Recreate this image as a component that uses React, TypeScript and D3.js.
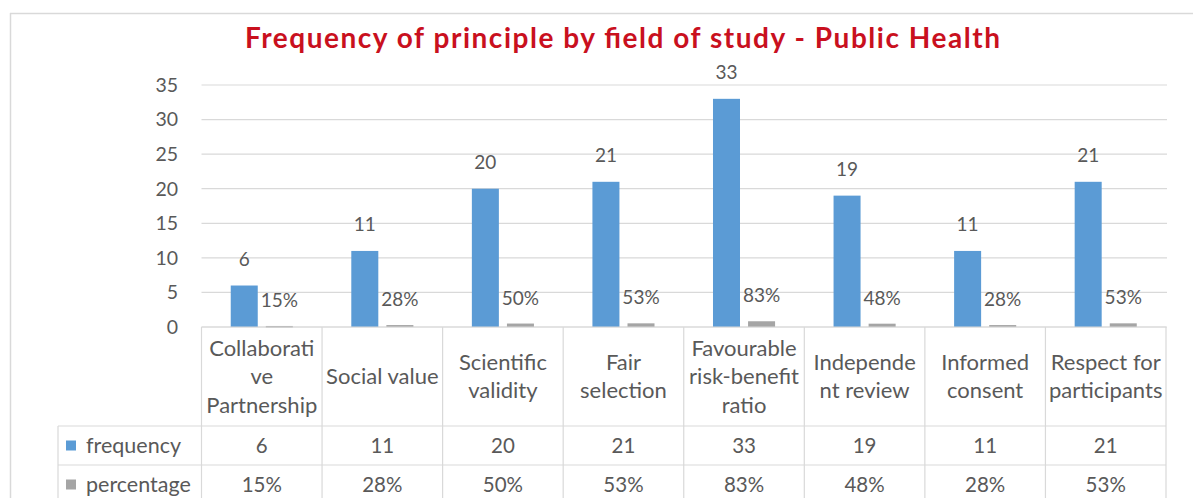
import React from "react";
import * as d3 from "d3";

const categoryLines: string[][] = [
  ["Collaborati", "ve", "Partnership"],
  ["Social value"],
  ["Scientific", "validity"],
  ["Fair", "selection"],
  ["Favourable", "risk-benefit", "ratio"],
  ["Independe", "nt review"],
  ["Informed", "consent"],
  ["Respect for", "participants"],
];
const categories = categoryLines.map((l) => l.join(" "));
const frequency = [6, 11, 20, 21, 33, 19, 11, 21];
const percentage = [0.15, 0.28, 0.5, 0.53, 0.83, 0.48, 0.28, 0.53];
const seriesNames = ["frequency", "percentage"];
const yTicks = [0, 5, 10, 15, 20, 25, 30, 35];
const title = "Frequency of principle by field of study - Public Health";

const W = 1193;
const H = 498;
const FONT = "Lato, 'Open Sans', sans-serif";
const TEXT = "#595959";
const GRID = "#D9D9D9";
const COLORS = ["#5B9BD5", "#A5A5A5"];

export default function App() {
  const left = 201.5;
  const right = 1166;
  const y = d3.scaleLinear().domain([0, 35]).range([327, 85]);
  const col = d3.scaleBand<string>().domain(categories).range([left, right]).padding(0);
  const xg = d3
    .scaleBand<string>()
    .domain(categories)
    .range([left, right])
    .paddingInner(0.485)
    .paddingOuter(0.2425);
  const x1 = d3.scaleBand<string>().domain(seriesNames).range([0, xg.bandwidth()]).paddingInner(0.23);
  const fmtPct = d3.format(".0%");
  const series = [frequency, percentage];

  const catTop = y(0);
  const row1 = 426;
  const row2 = 465;
  const row3 = 504;
  const legendLeft = 58;
  const catMid = (catTop + row1) / 2;
  const lineH = 28.5;

  return (
    <svg
      width={W}
      height={H}
      style={{ position: "absolute", left: 0, top: 0, background: "#fff" }}
      fontFamily={FONT}
    >
      {/* outer frame */}
      <line x1={10} x2={W} y1={13.5} y2={13.5} stroke={GRID} strokeWidth={1.5} />
      <line x1={10.5} x2={10.5} y1={13} y2={H} stroke={GRID} strokeWidth={1.5} />

      <text
        x={622.5}
        y={48}
        textAnchor="middle"
        fontSize={28}
        fontWeight={700}
        fill="#C9101E"
        textLength={755}
        lengthAdjust="spacing"
      >
        {title}
      </text>

      {/* gridlines and y ticks */}
      {yTicks.map((t) => (
        <g key={t}>
          <line x1={left} x2={right + 1} y1={y(t)} y2={y(t)} stroke={GRID} strokeWidth={1.2} />
          <text x={178} y={y(t)} dy="0.35em" textAnchor="end" fontSize={19.5} fill={TEXT}>
            {t}
          </text>
        </g>
      ))}

      {/* bars */}
      {categories.map((c, i) => (
        <g key={c} transform={`translate(${xg(c)},0)`}>
          {seriesNames.map((s, si) => {
            const v = series[si][i];
            const bx = x1(s)!;
            const bw = x1.bandwidth();
            return (
              <g key={s}>
                <rect
                  x={bx}
                  y={y(v)}
                  width={bw}
                  height={Math.max(1.5, y(0) - y(v))}
                  fill={COLORS[si]}
                />
                <text
                  x={bx + bw / 2}
                  y={y(v) - (si === 0 ? 20 : 19)}
                  textAnchor="middle"
                  fontSize={19}
                  fill={TEXT}
                >
                  {si === 0 ? v : fmtPct(v)}
                </text>
              </g>
            );
          })}
        </g>
      ))}

      {/* data table */}
      <g stroke={GRID} strokeWidth={1.2}>
        <line x1={left} x2={right} y1={catTop} y2={catTop} />
        <line x1={legendLeft} x2={right} y1={row1} y2={row1} />
        <line x1={legendLeft} x2={right} y1={row2} y2={row2} />
        <line x1={legendLeft} x2={right} y1={row3} y2={row3} />
        <line x1={legendLeft} x2={legendLeft} y1={row1} y2={row3} />
        {categories.map((c) => (
          <line key={c} x1={col(c)!} x2={col(c)!} y1={catTop} y2={row3} />
        ))}
        <line x1={right} x2={right} y1={catTop} y2={row3} />
      </g>

      {categories.map((c, i) => {
        const cx = col(c)! + col.bandwidth() / 2;
        const lines = categoryLines[i];
        const start = catMid - ((lines.length - 1) * lineH) / 2;
        return (
          <g key={c}>
            <text textAnchor="middle" fontSize={22} fill={TEXT}>
              {lines.map((l, li) => (
                <tspan key={li} x={cx} y={start + li * lineH} dy="0.35em">
                  {l}
                </tspan>
              ))}
            </text>
            <text x={cx} y={(row1 + row2) / 2} dy="0.35em" textAnchor="middle" fontSize={20.5} fill={TEXT}>
              {frequency[i]}
            </text>
            <text x={cx} y={(row2 + row3) / 2} dy="0.35em" textAnchor="middle" fontSize={20.5} fill={TEXT}>
              {fmtPct(percentage[i])}
            </text>
          </g>
        );
      })}

      {/* legend keys */}
      {seriesNames.map((s, si) => {
        const cy = si === 0 ? (row1 + row2) / 2 : (row2 + row3) / 2;
        return (
          <g key={s}>
            <rect x={66} y={cy - 5} width={10} height={10} fill={COLORS[si]} />
            <text x={86} y={cy} dy="0.35em" fontSize={21.5} fill={TEXT}>
              {s}
            </text>
          </g>
        );
      })}
    </svg>
  );
}
